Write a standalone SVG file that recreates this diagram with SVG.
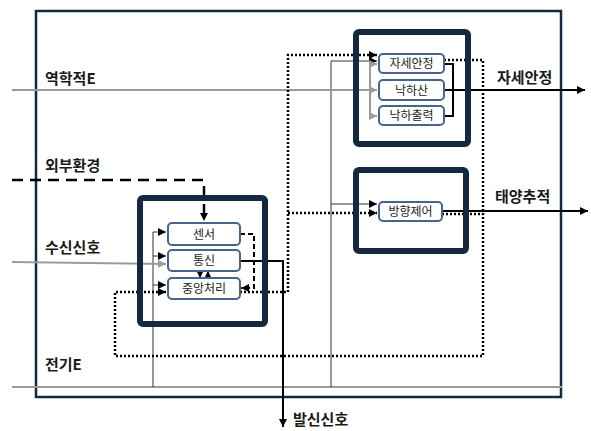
<svg xmlns="http://www.w3.org/2000/svg" width="591" height="431" viewBox="0 0 591 431">
<style>
.lbl{font-family:"Noto Sans CJK KR","Noto Sans",sans-serif;font-weight:bold;font-size:15px;fill:#1a1a1a}
.in{font-family:"Noto Sans CJK KR","Noto Sans",sans-serif;font-size:12px;fill:#222;text-anchor:middle}
.big{fill:none;stroke:#14283f;stroke-width:6}
.sm{fill:#fff;stroke:#46648c;stroke-width:2}
.blk{fill:none;stroke:#000;stroke-width:2}
.thin{fill:none;stroke:#333;stroke-width:1}
.gry{fill:none;stroke:#9a9a9a;stroke-width:2}
.dot{fill:none;stroke:#000;stroke-width:2.5;stroke-dasharray:2 2}
.dash{fill:none;stroke:#000;stroke-width:2.5;stroke-dasharray:11 7}
.dash2{fill:none;stroke:#000;stroke-width:2;stroke-dasharray:5 3}
</style>
<defs>
<marker id="ab" viewBox="0 0 10 10" refX="10" refY="5" markerWidth="8" markerHeight="8" markerUnits="userSpaceOnUse" orient="auto"><path d="M0,0L10,5L0,10z" fill="#000"/></marker>
<marker id="ag" viewBox="0 0 10 10" refX="10" refY="5" markerWidth="8" markerHeight="8" markerUnits="userSpaceOnUse" orient="auto"><path d="M0,0L10,5L0,10z" fill="#9a9a9a"/></marker>
</defs>
<rect width="591" height="431" fill="#fff"/>
<rect x="36" y="11" width="525" height="386" fill="none" stroke="#14283f" stroke-width="2.5"/>

<g id="connectors">
<line x1="12" y1="387" x2="562" y2="387" class="gry"/>
<path d="M331,387V61H377" class="thin" marker-end="url(#ab)"/>
<path d="M331,204H377" class="thin" marker-end="url(#ab)"/>
<path d="M153,387V232H166" class="thin" marker-end="url(#ab)"/>
<path d="M153,256H166" class="thin" marker-end="url(#ab)"/>
<path d="M153,285H166" class="thin" marker-end="url(#ab)"/>
<path d="M12,90H377" class="gry" marker-end="url(#ag)"/>
<path d="M377,64H374Q370,64 370,68V112Q370,116 374,116H377" class="gry"/>
<path d="M370,64H377" class="gry" marker-end="url(#ag)"/>
<path d="M370,116H377" class="gry" marker-end="url(#ag)"/>
<path d="M444,64H453V116H444" class="blk"/>
<path d="M444,90H585" class="blk" marker-end="url(#ab)"/>
<path d="M442,211H588" class="blk" marker-end="url(#ab)"/>
<path d="M240,261H283V427" class="blk" marker-end="url(#ab)"/>
<path d="M12,262L166,264" class="gry" marker-end="url(#ag)"/>
<path d="M12,180H204V221" class="dash" marker-end="url(#ab)"/>
<path d="M240,234H254V288H241" class="dash2" marker-end="url(#ab)"/>
<line x1="200" y1="271" x2="200" y2="278" stroke="#000" stroke-width="1.5" marker-end="url(#ab)"/>
<line x1="208" y1="278" x2="208" y2="271" stroke="#000" stroke-width="1.5" marker-end="url(#ab)"/>
<path d="M240,292H288V55H377" class="dot" marker-end="url(#ab)"/>
<path d="M288,213H377" class="dot" marker-end="url(#ab)"/>
<path d="M444,60H483V356H115V292H166" class="dot" marker-end="url(#ab)"/>
<path d="M442,214H483" class="dot"/>
</g>

<g id="groupA"><rect x="356" y="32" width="112" height="112" rx="3" class="big"/></g>
<g id="groupB"><rect x="356" y="170" width="110" height="81" rx="3" class="big"/></g>
<g id="groupC"><rect x="140" y="198" width="125" height="126" rx="3" class="big"/></g>

<g id="n-jase"><rect x="379" y="54" width="65" height="19" rx="4" class="sm"/><text x="411.5" y="68" class="in">자세안정</text></g>
<g id="n-nakhasan"><rect x="379" y="80" width="65" height="20" rx="4" class="sm"/><text x="411.5" y="94.5" class="in">낙하산</text></g>
<g id="n-nakhachul"><rect x="379" y="106" width="65" height="19" rx="4" class="sm"/><text x="411.5" y="120" class="in">낙하출력</text></g>
<g id="n-banghyang"><rect x="379" y="202" width="63" height="19" rx="4" class="sm"/><text x="410.5" y="216" class="in">방향제어</text></g>
<g id="n-sensor"><rect x="168" y="223" width="72" height="22" rx="4" class="sm"/><text x="204" y="238.5" class="in">센서</text></g>
<g id="n-tongsin"><rect x="168" y="250" width="72" height="21" rx="4" class="sm"/><text x="204" y="265" class="in">통신</text></g>
<g id="n-cpu"><rect x="168" y="278" width="72" height="21" rx="4" class="sm"/><text x="204" y="293" class="in">중앙처리</text></g>

<g id="labels">
<text x="45" y="84" class="lbl">역학적E</text>
<text x="45" y="171" class="lbl">외부환경</text>
<text x="45" y="253" class="lbl">수신신호</text>
<text x="45" y="370" class="lbl">전기E</text>
<text x="497" y="83" class="lbl">자세안정</text>
<text x="495" y="202" class="lbl">태양추적</text>
<text x="293" y="425" class="lbl">발신신호</text>
</g>
</svg>
